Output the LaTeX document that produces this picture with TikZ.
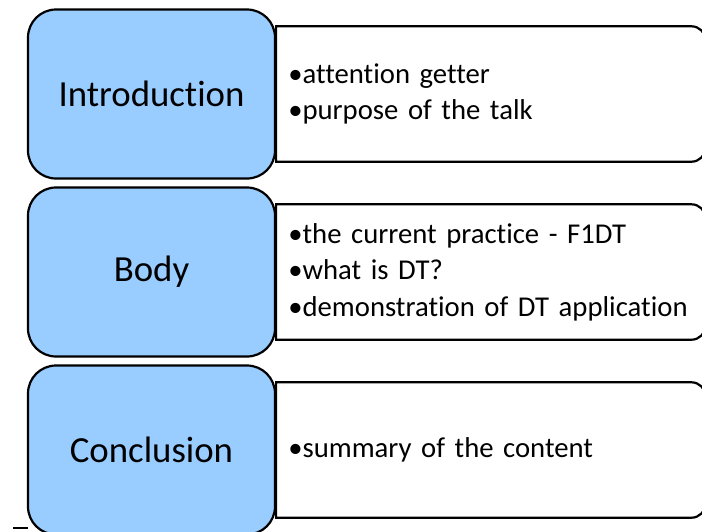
\documentclass[tikz,border=0pt]{standalone}
\usepackage{fontspec}
\setmainfont{Carlito}[Ligatures={NoCommon,NoContextual}]
\usetikzlibrary{positioning}
\definecolor{partblue}{RGB}{153,204,255}

\begin{document}
\begin{tikzpicture}[
	x=1pt, y=-1pt,
	node distance=6.8pt and 0pt,
	partbox/.style = {draw, line width=2.2pt, fill=partblue, rounded corners=28pt,
	                  minimum width=247pt, minimum height=169pt,
	                  font=\fontsize{36.8}{44}\selectfont},
	points/.style  = {minimum width=429pt, minimum height=135pt, inner xsep=11pt,
	                  text width=405pt, align=left,
	                  font=\fontsize{28.7}{36.5}\selectfont},
	listframe/.style = {line width=2.2pt}
     ]
	\useasboundingbox (0,0) rectangle (702,531);
	\clip (0,0) rectangle (702,531);
%
	\node (intro) [partbox] at (151.5,94) {Introduction};
	\node (body)  [partbox, below=of intro] {Body};
	\node (concl) [partbox, below=of body] {Conclusion};
%
	\node (intro-list) [points, right=of intro]
		{\textbullet attention getter\\ \textbullet purpose of the talk};
	\node (body-list)  [points, right=of body]
		{\textbullet the current practice - F1DT\\ \textbullet what is DT?\\
		 \textbullet demonstration of DT application};
	\node (concl-list) [points, right=of concl]
		{\textbullet summary of the content};
%
	\foreach \n in {intro-list, body-list, concl-list}
		\draw[listframe] (\n.south west) -- (\n.north west)
			-- ([xshift=-14pt] \n.north east) arc[start angle=90, end angle=0, radius=14pt]
			-- ([yshift=14pt] \n.south east) arc[start angle=0, end angle=-90, radius=14pt]
			-- cycle;
%
	\draw[line width=1.4pt] (13,528) -- (28,528);
\end{tikzpicture}
\end{document}
